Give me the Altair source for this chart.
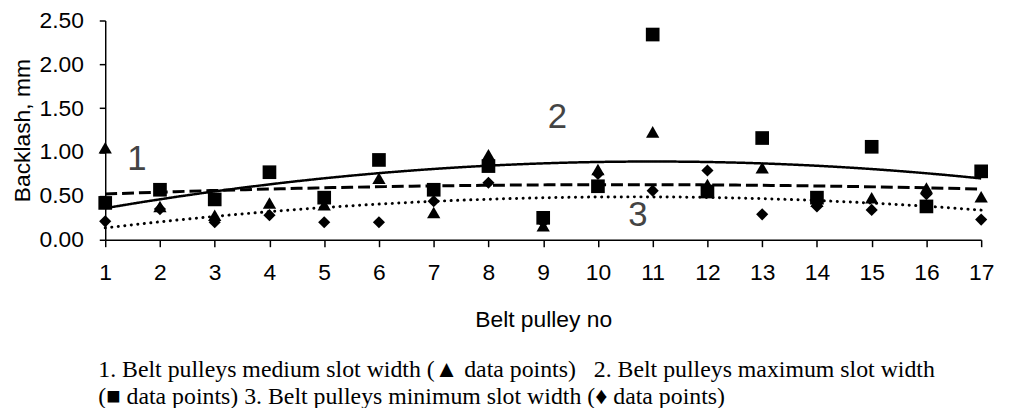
import altair as alt
import pandas as pd

# ---- data ----
pulley = list(range(1, 18))
medium = [1.05, 0.38, 0.28, 0.42, 0.40, 0.70, 0.31, 0.97, 0.16, 0.80, 1.23, 0.63, 0.82, 0.44, 0.48, 0.59, 0.49]
maximum = [0.42, 0.57, 0.46, 0.77, 0.48, 0.91, 0.57, 0.84, 0.25, 0.61, 2.34, 0.55, 1.16, 0.48, 1.06, 0.38, 0.78]
minimum = [0.21, 0.35, 0.20, 0.28, 0.20, 0.20, 0.44, 0.65, 0.20, 0.75, 0.56, 0.79, 0.29, 0.38, 0.34, 0.52, 0.23]

y_ticks = [0.0, 0.5, 1.0, 1.5, 2.0, 2.5]

label_text = ["1", "2", "3"]
label_x = [1.58, 9.26, 10.73]
label_y = [0.92, 1.40, 0.28]

caption = [
    "1. Belt pulleys medium slot width (\u25b2 data points)\u00a0\u00a0 2. Belt pulleys maximum slot width",
    "(\u25a0 data points) 3. Belt pulleys minimum slot width (\u2666 data points)",
]

df = pd.DataFrame({"pulley": pulley, "medium": medium, "maximum": maximum, "minimum": minimum})
long = df.melt("pulley", var_name="series", value_name="backlash")
labels = pd.DataFrame({"t": label_text, "pulley": label_x, "backlash": label_y})

FONT = "Liberation Sans"

x = alt.X(
    "pulley:Q",
    scale=alt.Scale(domain=[1, 17], nice=False, zero=False),
    axis=alt.Axis(values=pulley, format="d", title="Belt pulley no", grid=False,
                  tickSize=7, labelPadding=15, titlePadding=24, labelFlush=False),
)
y = alt.Y(
    "backlash:Q",
    scale=alt.Scale(domain=[0, 2.5], nice=False),
    axis=alt.Axis(values=y_ticks, format=".2f", title="Backlash, mm", grid=False,
                  tickSize=6, labelPadding=16, titlePadding=5, labelFlush=False),
)

base = alt.Chart(long).encode(x=x, y=y)


def trend(series, dash, width, cap):
    return (
        base.transform_filter(alt.datum.series == series)
        .transform_regression("pulley", "backlash", method="poly", order=2, extent=[1, 17])
        .mark_line(color="black", strokeWidth=width, strokeDash=dash, strokeCap=cap)
    )


def points(series, shape, size):
    return (
        base.transform_filter(alt.datum.series == series)
        .mark_point(shape=shape, filled=True, size=size, color="black", opacity=1)
    )


lines = [
    trend("maximum", [1, 0], 2.5, "butt"),
    trend("medium", [12, 5], 3, "butt"),
    trend("minimum", [0.1, 6.5], 3, "round"),
]
pts = [
    points("medium", "triangle-up", 180),
    points("maximum", "square", 190),
    points("minimum", "diamond", 150),
]

text = alt.Chart(labels).mark_text(font=FONT, fontSize=35, color="#444444").encode(
    x=alt.X("pulley:Q"), y=alt.Y("backlash:Q"), text="t:N"
)

chart = (
    alt.layer(*lines, *pts, text)
    .properties(
        width=883,
        height=221,
        autosize=alt.AutoSizeParams(type="none"),
        padding={"left": 98, "top": 11, "right": 22, "bottom": 168},
        title=alt.TitleParams(
            text=caption, orient="bottom", anchor="start", frame="group", font="Liberation Serif",
            fontSize=24, fontWeight="normal", lineHeight=28, dx=-7, offset=27, color="black",
        ),
    )
    .configure_view(stroke=None)
    .configure_axis(
        labelFont=FONT, labelFontSize=23, labelColor="black",
        titleFont=FONT, titleFontSize=23, titleFontWeight="normal", titleColor="black",
        domainColor="black", tickColor="black", domainWidth=1.5, tickWidth=1.5,
    )
)

chart.save("out.html", embed_options={"renderer": "svg", "actions": False})
